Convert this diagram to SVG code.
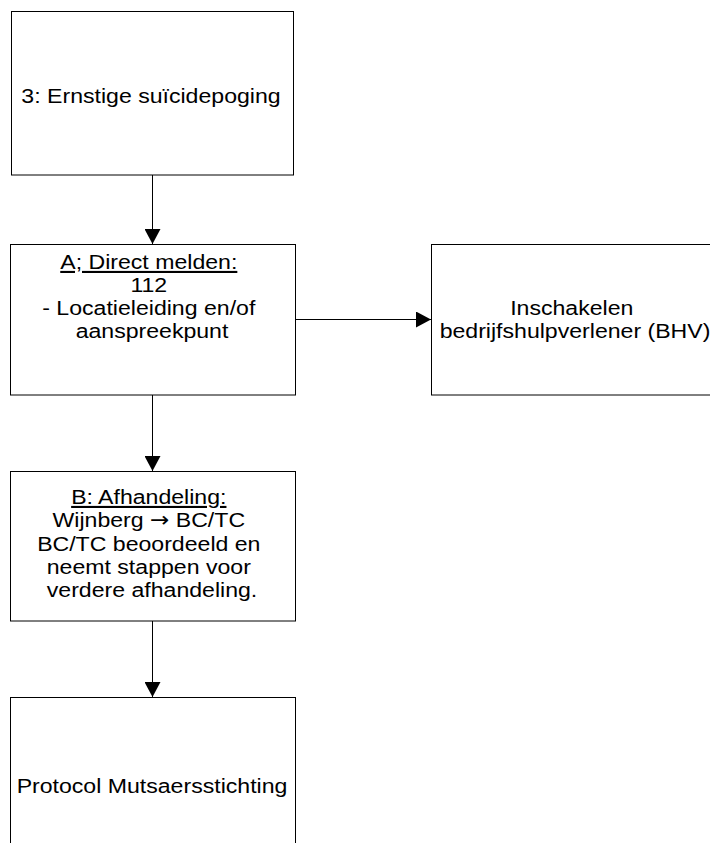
<svg xmlns="http://www.w3.org/2000/svg" width="710" height="843" viewBox="0 0 710 843">
<style>
.box{fill:#fff;stroke:#000;stroke-width:1}
.t{font-family:"Liberation Sans",Arial,sans-serif;font-size:21px;fill:#000;text-anchor:middle}
.u{text-decoration:underline}
.ar{font-family:"DejaVu Sans",sans-serif}
.c{stroke:#000;stroke-width:1;fill:none}
</style>
<defs>
<marker id="ah" markerUnits="userSpaceOnUse" markerWidth="16" markerHeight="16" refX="15" refY="8" orient="auto">
<path d="M0,0 L15,8 L0,16 Z" fill="#000"/>
</marker>
</defs>
<rect width="710" height="843" fill="#fff"/>
<g id="connectors">
<line class="c" x1="152.5" y1="175" x2="152.5" y2="244" marker-end="url(#ah)"/>
<line class="c" x1="152.5" y1="395" x2="152.5" y2="471" marker-end="url(#ah)"/>
<line class="c" x1="152.5" y1="621" x2="152.5" y2="697" marker-end="url(#ah)"/>
<line class="c" x1="296" y1="319.5" x2="431" y2="319.5" marker-end="url(#ah)"/>
</g>
<g id="n1">
<rect class="box" x="11.5" y="11.5" width="282" height="163.5"/>
<text class="t" transform="translate(151,103) scale(1.1,1)" x="0" y="0">3: Ernstige suïcidepoging</text>
</g>
<g id="nA">
<rect class="box" x="10.5" y="244.5" width="285" height="150.5"/>
<text class="t" transform="translate(152,269) scale(1.1,1)">
<tspan class="u" x="0" y="0">A; Direct melden:</tspan>
<tspan x="0" y="23">112</tspan>
<tspan x="0" y="46">- Locatieleiding en/of</tspan>
<tspan x="0" y="69">aanspreekpunt</tspan>
</text>
</g>
<g id="nBHV">
<rect class="box" x="431.5" y="244.5" width="288" height="150.5"/>
<text class="t" transform="translate(575,315) scale(1.1,1)">
<tspan x="0" y="0">Inschakelen</tspan>
<tspan x="0" y="23">bedrijfshulpverlener (BHV)</tspan>
</text>
</g>
<g id="nB">
<rect class="box" x="10.5" y="471.5" width="285" height="149.5"/>
<text class="t" transform="translate(152,504) scale(1.1,1)">
<tspan class="u" x="0" y="0">B: Afhandeling:</tspan>
<tspan x="0" y="23.3">Wijnberg <tspan class="ar">→</tspan> BC/TC</tspan>
<tspan x="0" y="46.6">BC/TC beoordeeld en</tspan>
<tspan x="0" y="69.9">neemt stappen voor</tspan>
<tspan x="0" y="93.2">verdere afhandeling.</tspan>
</text>
</g>
<g id="nC">
<rect class="box" x="10.5" y="697.5" width="285" height="160"/>
<text class="t" transform="translate(152,793) scale(1.1,1)" x="0" y="0">Protocol Mutsaersstichting</text>
</g>
</svg>
